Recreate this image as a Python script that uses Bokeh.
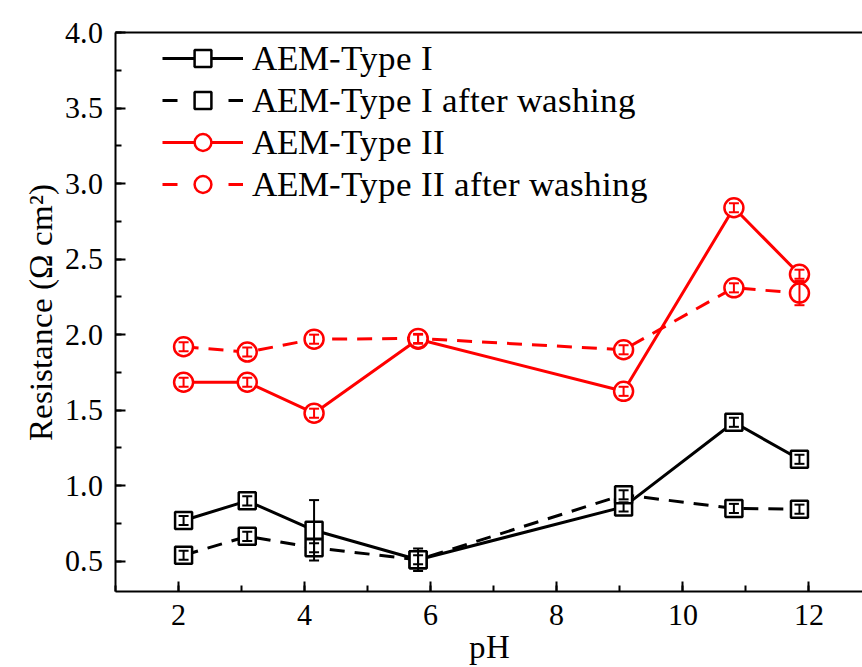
from bokeh.plotting import figure
from bokeh.models import (Range1d, LinearAxis, SingleIntervalTicker, FixedTicker,
                          Legend, LegendItem, Whisker, TeeHead, ColumnDataSource,
                          NumeralTickFormatter, GlobalInlineStyleSheet, InlineStyleSheet)
from bokeh.embed import file_html
from bokeh.resources import INLINE

# ---------------- data ----------------
ph = [2.08, 3.09, 4.15, 5.80, 9.06, 10.81, 11.85]

type1 = [0.77, 0.90, 0.705, 0.51, 0.86, 1.42, 1.175]
type1_err = [0.03, 0.03, 0.20, 0.075, 0.03, 0.03, 0.03]

type1_wash = [0.54, 0.665, 0.59, 0.51, 0.94, 0.85, 0.845]
type1_wash_err = [0.03, 0.03, 0.03, 0.03, 0.03, 0.03, 0.03]

type2 = [1.685, 1.685, 1.48, 1.97, 1.625, 2.84, 2.40]
type2_err = [0.03, 0.03, 0.03, 0.03, 0.03, 0.03, 0.03]

type2_wash = [1.92, 1.885, 1.97, 1.975, 1.90, 2.31, 2.275]
type2_wash_err = [0.03, 0.03, 0.03, 0.03, 0.03, 0.03, 0.08]

labels = ["AEM-Type I", "AEM-Type I after washing",
          "AEM-Type II", "AEM-Type II after washing"]

# single-word alias of the installed Times-metric serif font
FONT_CSS = ('@font-face { font-family: TNRSerif; '
            'src: local("Liberation Serif"), local("LiberationSerif"), local("Liberation Serif Regular"); }')
TEXT_CSS = 'text { font-family: TNRSerif, "Liberation Serif", serif !important; }'
FONT = "TNRSerif"
RED = "#ff0000"
BLACK = "#000000"
NAN = float("nan")

p = figure(width=862, height=667, x_range=Range1d(1, 12.85), y_range=Range1d(0.3, 4.0),
           output_backend="svg", toolbar_location=None,
           min_border_left=115, min_border_right=0, min_border_top=32, min_border_bottom=75)
p.stylesheets = [GlobalInlineStyleSheet(css=FONT_CSS), InlineStyleSheet(css=TEXT_CSS)]
p.outline_line_color = None
p.xgrid.visible = False
p.ygrid.visible = False
p.background_fill_color = "white"
p.border_fill_color = "white"

for ax in (p.xaxis[0], p.yaxis[0]):
    ax.axis_line_width = 2
    ax.axis_line_color = BLACK
    ax.major_tick_line_width = 2
    ax.minor_tick_line_width = 2
    ax.major_tick_in = 10
    ax.major_tick_out = 0
    ax.minor_tick_in = 6
    ax.minor_tick_out = 0
    ax.major_label_text_font = FONT
    ax.major_label_text_font_size = "30px"
    ax.major_label_text_color = BLACK
    ax.axis_label_text_font = FONT
    ax.axis_label_text_font_size = "33px"
    ax.axis_label_text_font_style = "normal"
    ax.axis_label_text_color = BLACK

p.xaxis[0].ticker = SingleIntervalTicker(interval=2, num_minor_ticks=2)
p.yaxis[0].ticker = SingleIntervalTicker(interval=0.5, num_minor_ticks=2)
p.xaxis[0].major_label_standoff = 13
p.yaxis[0].major_label_standoff = 13
p.yaxis[0].formatter = NumeralTickFormatter(format="0.0")

p.yaxis[0].axis_label = "Resistance (Ω cm²)"
p.yaxis[0].axis_label_standoff = 3

p.xaxis[0].axis_label = "pH"
p.xaxis[0].axis_label_standoff = 1

top_axis = LinearAxis(ticker=FixedTicker(ticks=[]), axis_line_width=2, axis_line_color=BLACK,
                      major_tick_line_color=None, minor_tick_line_color=None)
p.add_layout(top_axis, "above")

series = [
    (type1, type1_err, BLACK, "solid", "square", 17),
    (type1_wash, type1_wash_err, BLACK, "15 10", "square", 17),
    (type2, type2_err, RED, "solid", "circle", 19),
    (type2_wash, type2_wash_err, RED, "15 10", "circle", 19),
]

for (vals, errs, col, dash, mk, sz) in series:
    p.line(ph, vals, line_color=col, line_width=3, line_dash=dash)

legend_items = []
for (vals, errs, col, dash, mk, sz), lab in zip(series, labels):
    p.scatter(ph, vals, marker=mk, size=sz, line_color=col, line_width=2.5, fill_color="white")
    src = ColumnDataSource(dict(x=ph, upper=[v + e for v, e in zip(vals, errs)],
                                lower=[v - e for v, e in zip(vals, errs)]))
    w = Whisker(source=src, base="x", upper="upper", lower="lower", dimension="height",
                line_color=col, line_width=2, level="annotation",
                upper_head=TeeHead(size=10, line_color=col, line_width=2),
                lower_head=TeeHead(size=10, line_color=col, line_width=2))
    p.add_layout(w)
    leg_dash = "solid" if dash == "solid" else "15 51"
    lr = p.line(x=[NAN], y=[NAN], line_color=col, line_width=3, line_dash=leg_dash)
    mr = p.scatter(x=[NAN], y=[NAN], marker=mk, size=sz - 2, line_color=col, line_width=2.5,
                   fill_color="white")
    legend_items.append(LegendItem(label=lab, renderers=[lr, mr]))

legend = Legend(items=legend_items, location=(47, 386), padding=0, spacing=0, margin=0,
                glyph_width=81, glyph_height=42, label_height=42, label_standoff=9,
                label_text_font=FONT, label_text_font_size="34.5px", label_text_color=BLACK,
                border_line_color=None, background_fill_alpha=0)
p.add_layout(legend)

open("out.html", "w").write(file_html(p, INLINE))
